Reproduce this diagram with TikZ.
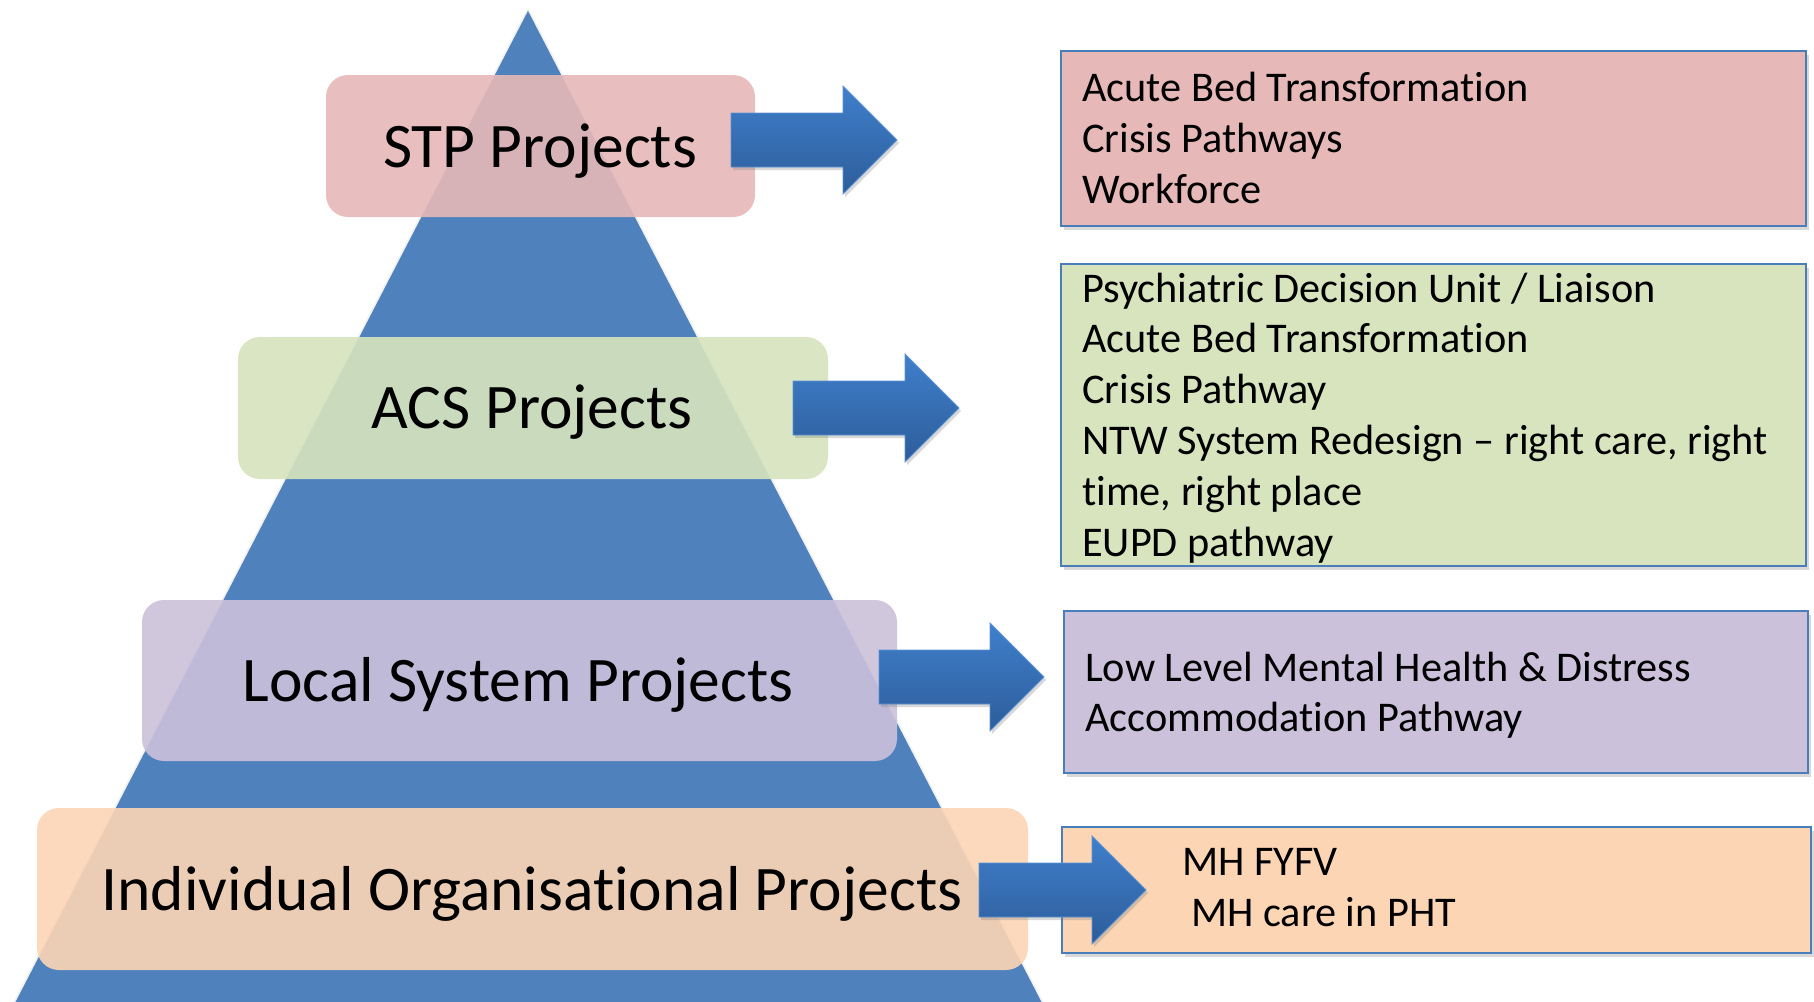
\documentclass[tikz,border=0pt]{standalone}
\usepackage{fontspec}
\setmainfont{Carlito}[Ligatures=NoCommon]
\usetikzlibrary{calc,shadows}

\definecolor{pyrblue}{HTML}{4F81BD}
\definecolor{stpfill}{HTML}{E6B9B8}
\definecolor{acsfill}{HTML}{D7E4BD}
\definecolor{localfill}{HTML}{CCC1DA}
\definecolor{indivfill}{HTML}{FCD5B5}
\definecolor{listedge}{HTML}{4A7EBB}
\definecolor{arrowtop}{HTML}{3F7FCB}
\definecolor{arrowbot}{HTML}{2D5D9A}

% block arrow from a tail point to a tip point on the same level
\newcommand{\blockarrow}[2]{%
  \path[blockarrowbody] let \p1=(#1), \p2=(#2) in
    (\x1,{\y1+27pt}) -- ({\x2-54pt},{\y1+27pt}) -- ({\x2-54pt},{\y1+54pt})
    -- (\x2,\y1) -- ({\x2-54pt},{\y1-54pt}) -- ({\x2-54pt},{\y1-27pt})
    -- (\x1,{\y1-27pt}) -- cycle;%
}

\begin{document}
\begin{tikzpicture}[x=1pt,y=-1pt,
  pyramid/.style={fill=pyrblue, draw=white!88!gray, line width=1.5pt, line join=miter},
  tier/.style={rounded corners=22pt, fill opacity=0.9, draw=none, inner sep=0pt},
  tierlabel/.style={anchor=base, inner sep=0pt, font=\fontsize{63.5}{76}\selectfont},
  listbox/.style={draw=listedge, line width=2.2pt, inner sep=0pt,
    drop shadow={opacity=0.3, shadow xshift=3pt, shadow yshift=-4pt}},
  listtext/.style={anchor=base west, inner sep=0pt, font=\fontsize{42.3}{51}\selectfont},
  blockarrowbody/.style={top color=arrowtop, bottom color=arrowbot,
    draw=arrowtop!85!white, line width=0.8pt,
    drop shadow={opacity=0.3, shadow xshift=2pt, shadow yshift=-3pt}}]

\useasboundingbox (0,0) rectangle (1814,1001);
\fill[white] (0,0) rectangle (1814,1001);

% the pyramid
\coordinate (apex) at (528,9);
\coordinate (baseL) at (14,1003);
\coordinate (baseR) at (1043,1003);
\filldraw[pyramid] (apex) -- (baseR) -- (baseL) -- cycle;

% tiers laid over the pyramid
\node[tier, fill=stpfill, minimum width=429pt, minimum height=142pt] (stp) at (540.5,146) {};
\node[tier, fill=acsfill, minimum width=590pt, minimum height=142pt] (acs) at (533,408) {};
\node[tier, fill=localfill, minimum width=755pt, minimum height=161pt] (local) at (519.5,680.5) {};
\node[tier, fill=indivfill, minimum width=991pt, minimum height=162pt] (indiv) at (532.5,889) {};

\node[tierlabel] (stpL) at (540,167) {STP Projects};
\node[tierlabel] (acsL) at (532,428) {ACS Projects};
\node[tierlabel] (localL) at (518,701) {Local System Projects};
\node[tierlabel] (indivL) at (532,910) {Individual Organisational Projects};

% project lists
\node[listbox, fill=stpfill, minimum width=745pt, minimum height=175pt] (stpList) at (1433.5,138.5) {};
\node[listbox, fill=acsfill, minimum width=745pt, minimum height=302pt] (acsList) at (1433.5,415) {};
\node[listbox, fill=localfill, minimum width=744pt, minimum height=162pt] (localList) at (1436,692) {};
\node[listbox, fill=indivfill, minimum width=749pt, minimum height=126pt] (indivList) at (1436.5,890) {};

% arrows from each tier to its list
\coordinate (a1tail) at (731,140);  \coordinate (a1tip) at (897,140);
\coordinate (a2tail) at (793,408);  \coordinate (a2tip) at (959,408);
\coordinate (a3tail) at (879,677);  \coordinate (a3tip) at (1044,677);
\coordinate (a4tail) at (979,890);  \coordinate (a4tip) at (1146,890);
\blockarrow{a1tail}{a1tip}
\blockarrow{a2tail}{a2tip}
\blockarrow{a3tail}{a3tip}
\blockarrow{a4tail}{a4tip}

% list entries
\node[listtext] (s1) at (1082,101) {Acute Bed Transformation};
\node[listtext] (s2) at (1082,152) {Crisis Pathways};
\node[listtext] (s3) at (1082,203) {Workforce};

\node[listtext] (c1) at (1082,302) {Psychiatric Decision Unit / Liaison};
\node[listtext] (c2) at (1082,352) {Acute Bed Transformation};
\node[listtext] (c3) at (1082,403) {Crisis Pathway};
\node[listtext] (c4) at (1082,454) {NTW System Redesign – right care, right};
\node[listtext] (c5) at (1082,505) {time, right place};
\node[listtext] (c6) at (1082,556) {EUPD pathway};

\node[listtext] (p1) at (1085,681) {Low Level Mental Health \& Distress};
\node[listtext] (p2) at (1085,731) {Accommodation Pathway};

\node[listtext] (o1) at (1182,875) {MH FYFV};
\node[listtext] (o2) at (1191,926) {MH care in PHT};
\end{tikzpicture}
\end{document}
